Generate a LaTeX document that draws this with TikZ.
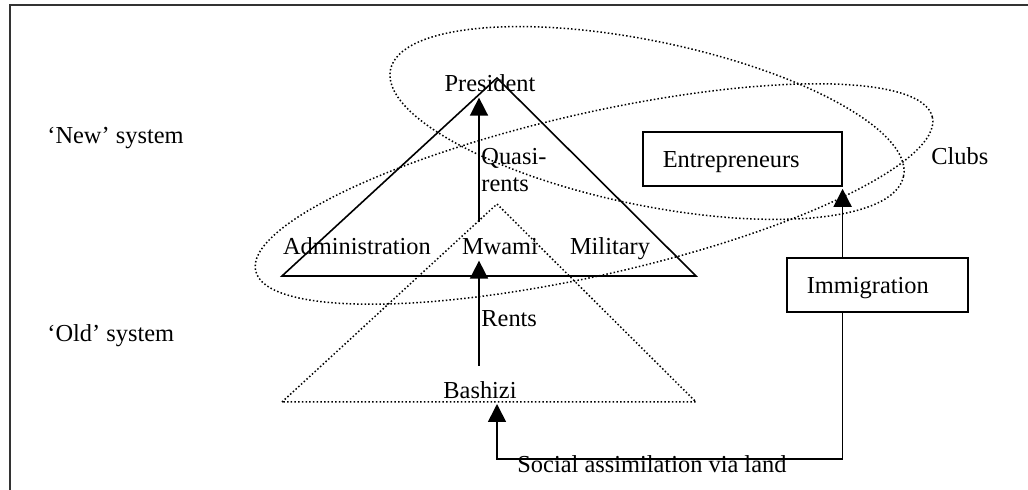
\documentclass[tikz,border=0pt]{standalone}
\usepackage{fontspec}
\setmainfont{Liberation Serif}
\usetikzlibrary{arrows.meta, positioning}

\begin{document}
\begin{tikzpicture}[x=0.5pt, y=-0.5pt,
		txt/.style={font=\fontsize{12.2}{13.5}\selectfont, inner sep=0pt},
		rbox/.style={txt, draw, line width=0.8pt, inner xsep=10pt, align=left,
			minimum height=27pt, text height=8.1pt, text depth=0pt},
		flow/.style={-{Triangle[width=9pt,length=9pt]}, line width=0.8pt},
		club/.style={line width=0.75pt, dash pattern=on 0.75pt off 1.1pt},
		tri/.style={line width=0.8pt, line join=miter}]
	\useasboundingbox (0,0) rectangle (1028,490);
	% frame
	\draw[line width=1pt, black!80] (10,490) -- (10,5) -- (1028,5);

	% side labels
	\node[txt, anchor=base west] (newsys) at (47,144) {‘New’ system};
	\node[txt, anchor=base west] (oldsys) at (47,342) {‘Old’ system};

	% the two pyramids
	\coordinate (newl) at (282,276);
	\coordinate (newtop) at (497,78);
	\coordinate (newr) at (696,276);
	\coordinate (oldl) at (282,402);
	\coordinate (oldtop) at (497,204);
	\coordinate (oldr) at (696,402);
	\draw[tri] (newl) -- (newtop) -- (newr) -- cycle;
	\draw[club] (oldl) -- (oldtop) -- (oldr) -- cycle;

	% actors
	\node[txt, anchor=base] (president) at (490,92) {President};
	\node[txt, anchor=base] (admin) at (357,255) {Administration};
	\node[txt, anchor=base] (mwami) at (500,255) {Mwami};
	\node[txt, anchor=base] (military) at (610,255) {Military};
	\node[txt, anchor=base] (bashizi) at (480,399) {Bashizi};
	\node[rbox, text width=79.5pt, anchor=west] (entre) at (642,159) {Entrepreneurs};
	\node[rbox, text width=70.5pt, anchor=west] (immig) at (786,285) {Immigration};
	\node[txt, anchor=base west] (clubs) at (931,165) {Clubs};

	% clubs
	\draw[club, rotate around={-11.75:(647,123)}] (647,123) ellipse [x radius=262, y radius=82];
	\draw[club, rotate around={12.8:(594,194)}] (594,194) ellipse [x radius=347, y radius=81];

	% flows
	\coordinate (flowx) at (479,0);
	\draw[flow, shorten <=8pt, shorten >=2.5pt] (mwami.north -| flowx) -- (president.south -| flowx);
	\draw[flow, shorten <=8pt, shorten >=2.5pt] (bashizi.north -| flowx) -- (mwami.south -| flowx);
	\node[txt, anchor=north west, align=left] (quasi) at (481,148) {Quasi-\\rents};
	\node[txt, anchor=base west] (rents) at (481,327) {Rents};
	\draw[flow, shorten >=1pt] (immig.north -| entre.south east) -- (entre.south east);
	\coordinate (landturn) at (497,459);
	\draw[flow, shorten >=1pt] (immig.south -| entre.south east) |- (landturn) -- (landturn |- oldl);
	\node[txt, anchor=base west] (land) at (517,473) {Social assimilation via land};
\end{tikzpicture}
\end{document}
